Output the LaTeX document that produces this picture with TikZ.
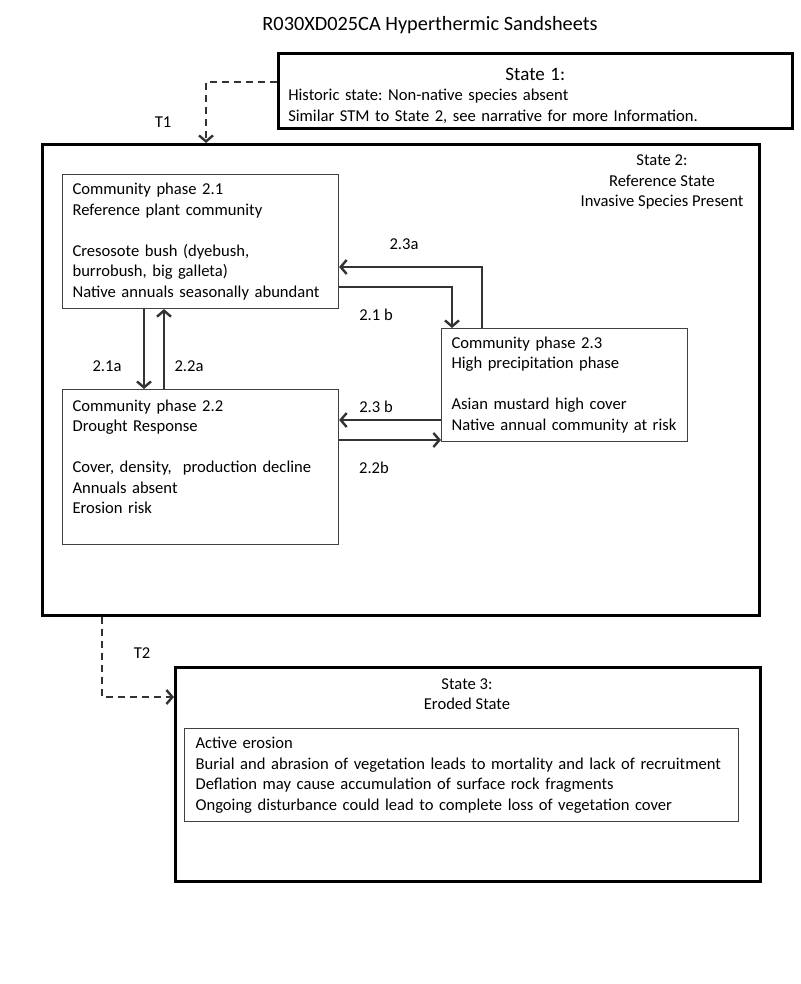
\documentclass[tikz,border=0pt]{standalone}
\usepackage{fontspec}
\setmainfont{Carlito}
\usetikzlibrary{arrows.meta}
\frenchspacing

\begin{document}
\begin{tikzpicture}[x = 1pt, y = -1pt, every node/.style = {font = \fontsize{16.6}{20.5}\selectfont, inner sep = 0pt},
  state/.style = {draw, line width = 2.6pt, anchor = north west, inner sep = 0pt},
  phase/.style = {draw = black!75, line width = 1.1pt, anchor = north west, align = left, inner xsep = 10pt, inner ysep = 0pt},
  arr/.style = {draw = black!80, line width = 1.2pt, -{Straight Barb[length = 6pt, width = 14pt, line width = 2.4pt]}},
  dasharr/.style = {arr, dash pattern = on 7pt off 5pt}]

  \useasboundingbox (0, 0) rectangle (800, 984);

  \node[font = \fontsize{20.3}{23}\selectfont] (title) at (430, 25) {R030XD025CA Hyperthermic Sandsheets};

  \node[state, text width = 494pt, minimum height = 75pt, inner xsep = 10pt, align = left] (s1) at (277, 52) {\raisebox{0pt}[22pt][0pt]{\makebox[494pt]{\fontsize{19}{20}\selectfont State 1:}}\\Historic state: Non-native species absent\\Similar STM to State 2, see narrative for more Information.};

  \node[state, minimum width = 717pt, minimum height = 471pt] (s2) at (41, 143) {};
  \node[align = center] (s2head) at (662, 182) {State 2:\\Reference State\\Invasive Species Present};

  \node[phase, text width = 256pt, minimum height = 134pt] (cp21) at (62, 174) {Community phase 2.1\\Reference plant community\\[20.5pt]Cresosote bush (dyebush,\\burrobush, big galleta)\\Native annuals seasonally abundant};
  \node[phase, text width = 256pt, minimum height = 155pt] (cp22) at (62, 389) {Community phase 2.2\\Drought Response\\[20.5pt]Cover, density,\ \ production decline\\Annuals absent\\Erosion risk\\\mbox{}};
  \node[phase, text width = 226pt, minimum height = 113pt] (cp23) at (441, 328) {Community phase 2.3\\High precipitation phase\\[20.5pt]Asian mustard high cover\\Native annual community at risk};

  \node[state, minimum width = 585pt, minimum height = 214pt] (s3) at (174, 666) {};
  \node[align = center] (s3head) at (467, 694) {State 3:\\Eroded State};
  \node[phase, text width = 532pt, inner xsep = 11pt, minimum height = 93pt] (s3box) at (184, 728) {Active erosion\\Burial and abrasion of vegetation leads to mortality and lack of recruitment\\Deflation may cause accumulation of surface rock fragments\\Ongoing disturbance could lead to complete loss of vegetation cover};

  % transitions
  \draw[dasharr] ([yshift = -30pt]s1.north west) -| ([xshift = 165pt]s2.north west);
  \node (t1) at (163, 122) {T1};
  \draw[dasharr] ([xshift = 61pt]s2.south west) |- ([yshift = -31pt]s3.north west);
  \node (t2) at (142, 653) {T2};

  % pathways
  \draw[arr] ([xshift = 82pt]cp21.south west) -- ([xshift = 82pt]cp22.north west);
  \draw[arr] ([xshift = 102pt]cp22.north west) -- ([xshift = 102pt]cp21.south west);
  \draw[arr] ([xshift = 41pt]cp23.north west) |- ([yshift = -93pt]cp21.north east);
  \draw[arr] ([yshift = -113pt]cp21.north east) -| ([xshift = 11pt]cp23.north west);
  \draw[arr] ([yshift = -92pt]cp23.north west) -- ([yshift = -31pt]cp22.north east);
  \draw[arr] ([yshift = -51pt]cp22.north east) -- ([yshift = -112pt]cp23.north west);

  \node (p21a) at (107, 366) {2.1a};
  \node (p22a) at (189, 366) {2.2a};
  \node (p23a) at (404, 244) {2.3a};
  \node (p21b) at (376, 315) {2.1 b};
  \node (p23b) at (376, 407) {2.3 b};
  \node (p22b) at (374, 468) {2.2b};

\end{tikzpicture}
\end{document}
